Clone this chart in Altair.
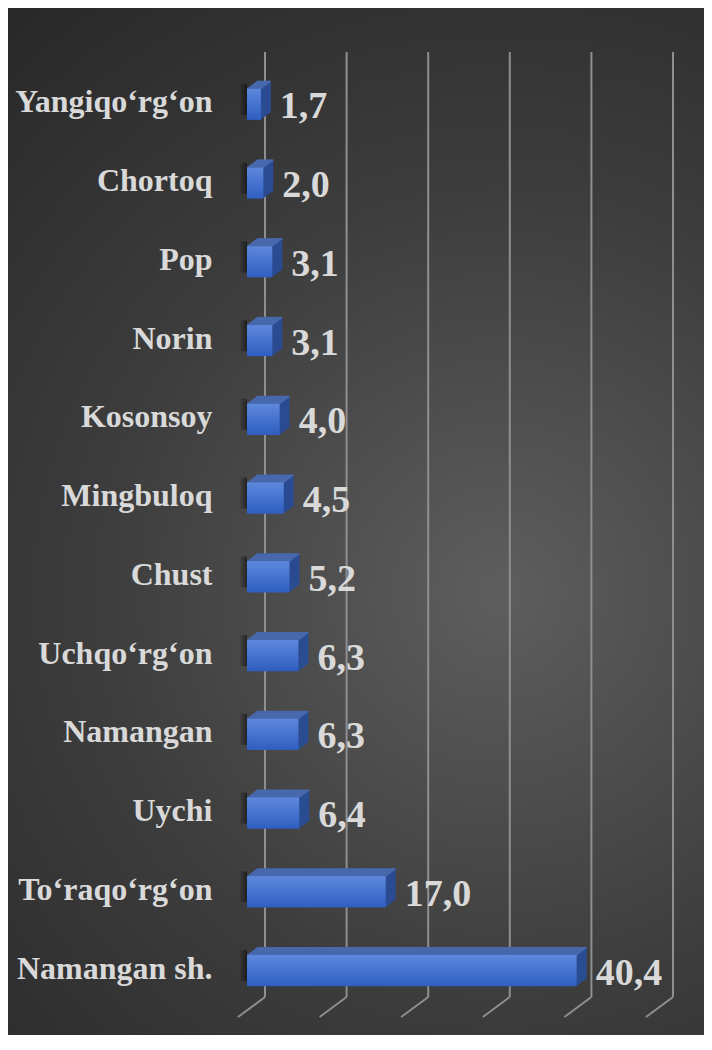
import altair as alt
import pandas as pd

# ---- data ----
categories = ["Yangiqo‘rg‘on", "Chortoq", "Pop", "Norin", "Kosonsoy", "Mingbuloq",
              "Chust", "Uchqo‘rg‘on", "Namangan", "Uychi", "To‘raqo‘rg‘on", "Namangan sh."]
values = [1.7, 2.0, 3.1, 3.1, 4.0, 4.5, 5.2, 6.3, 6.3, 6.4, 17.0, 40.4]
grid_ticks = [0, 10, 20, 30, 40, 50]

df = pd.DataFrame({
    "cat": categories,
    "v": values,
    "label": [f"{v:.1f}".replace(".", ",") for v in values],
})
ticks_df = pd.DataFrame({"t": grid_ticks})

# ---- layout / style ----
W, H = 408, 945
PAD = dict(left=257, top=44, right=31, bottom=38)
FONT = "Liberation Serif"
GRID = "#8f8f8f"
SIDE = "#2b4c92"
TOP = "#4868ae"
FX, FY = -18, 13          # front face offset from back plane
DEPTH_Y = -0.75           # per 1px of depth in x

x_scale = alt.Scale(domain=[0, 50], nice=False, zero=True)
y_scale = alt.Scale(domain=categories, paddingInner=0.606, paddingOuter=0.303)

y_axis = alt.Axis(domain=False, ticks=False, grid=False, title=None,
                  labelFont=FONT, labelFontSize=32, labelFontWeight="bold",
                  labelColor="#d9d9d9", labelPadding=53, labelOffset=21,
                  labelBaseline="alphabetic", labelLimit=400, zindex=1)

X = alt.X("v:Q", scale=x_scale, axis=None)
Y = alt.Y("cat:N", scale=y_scale, axis=y_axis, sort=categories)

# background with radial gradient
bg_fill = alt.Gradient(
    gradient="radial",
    stops=[alt.GradientStop(color="#5e5e5e", offset=0),
           alt.GradientStop(color="#3d3d3d", offset=0.5),
           alt.GradientStop(color="#262626", offset=1)],
    x1=0.64, y1=0.57, r1=0, x2=0.64, y2=0.57, r2=0.78,
)
bg = alt.Chart(pd.DataFrame({"a": [0]})).mark_rect(fill=bg_fill).encode(
    x=alt.value(-PAD["left"]), x2=alt.value(W + PAD["right"]),
    y=alt.value(-PAD["top"]), y2=alt.value(H + PAD["bottom"]),
)

# gridlines (back wall) and floor slants
TX = alt.X("t:Q", scale=x_scale, axis=None)
grid = alt.Chart(ticks_df).mark_rule(color=GRID, strokeWidth=2).encode(
    x=TX, y=alt.value(0), y2=alt.value(H))
floor = alt.Chart(ticks_df).mark_rule(color=GRID, strokeWidth=2, x2Offset=-27).encode(
    x=TX, x2=alt.X2("t"), y=alt.value(H), y2=alt.value(H + 20))

base = alt.Chart(df)
layers = [bg, grid, floor]

# soft shadow at the left end of each bar
shadow_fill = alt.Gradient(
    gradient="linear",
    stops=[alt.GradientStop(color="rgba(0,0,0,0)", offset=0),
           alt.GradientStop(color="rgba(0,0,0,0.5)", offset=1)],
    x1=0, x2=1, y1=0, y2=0,
)
layers.append(
    base.transform_calculate(z="0").mark_bar(
        fill=shadow_fill, xOffset=FX - 8, x2Offset=FX, yOffset=FY - 5, y2Offset=FY - 5
    ).encode(x=alt.X("z:Q", scale=x_scale, axis=None), x2=alt.X2("z"), y=Y)
)

# 3D extrusion: side faces
for k in range(10, 0, -1):
    ox, oy = FX + k, FY + DEPTH_Y * k
    layers.append(base.mark_bar(color=SIDE, xOffset=ox, x2Offset=ox,
                                yOffset=oy, y2Offset=oy).encode(x=X, y=Y))
# top faces
for k in range(10, -1, -1):
    ox, oy = FX + k, FY + DEPTH_Y * k - 15.5
    layers.append(base.mark_rule(color=TOP, strokeWidth=1.5, xOffset=ox, x2Offset=ox,
                                 yOffset=oy, y2Offset=oy).encode(x=X, x2=alt.datum(0), y=Y))

front_fill = alt.Gradient(
    gradient="linear",
    stops=[alt.GradientStop(color="#5d88dc", offset=0),
           alt.GradientStop(color="#4673cf", offset=0.5),
           alt.GradientStop(color="#2f5ec0", offset=1)],
    x1=0, x2=0, y1=0, y2=1,
)
front = base.mark_bar(fill=front_fill, xOffset=FX, x2Offset=FX,
                      yOffset=FY, y2Offset=FY).encode(x=X, y=Y)
layers.append(front)

text = base.mark_text(font=FONT, fontSize=38, fontWeight="bold", color="#d9d9d9",
                      align="left", baseline="alphabetic", dx=1, dy=27).encode(
    x=X, y=Y, text="label:N")
layers.append(text)

chart = alt.layer(*layers).properties(
    width=W, height=H, padding=PAD, autosize="none", background="#262626"
).configure_view(stroke=None)

chart.save("out.html", embed_options={"renderer": "svg", "actions": False})
